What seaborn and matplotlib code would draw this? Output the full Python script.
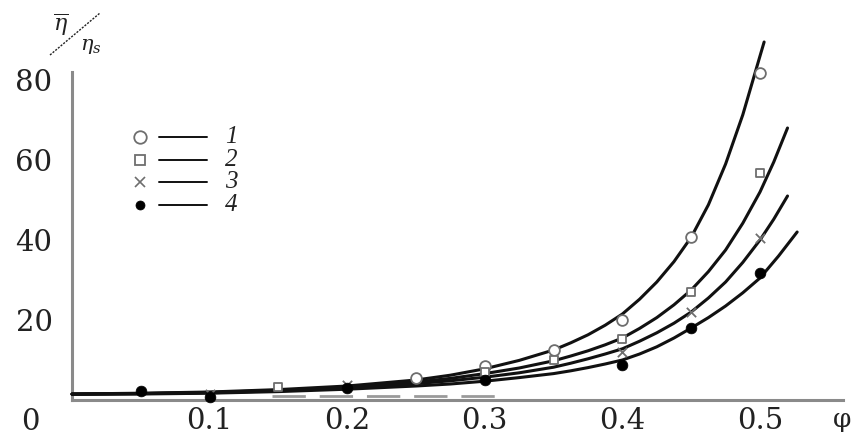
import matplotlib
matplotlib.use("Agg")
import matplotlib.pyplot as plt
from matplotlib.lines import Line2D
import seaborn as sns

# ---- measured relative viscosity (markers) ----
phi_1 = [0.25, 0.30, 0.35, 0.40, 0.45, 0.50]
eta_1 = [5.5, 8.5, 12.5, 20.0, 40.7, 81.7]

phi_2 = [0.15, 0.30, 0.35, 0.40, 0.45, 0.50]
eta_2 = [3.2, 7.0, 10.0, 15.2, 27.0, 56.7]

phi_3 = [0.10, 0.20, 0.40, 0.45, 0.50]
eta_3 = [1.5, 3.8, 12.0, 22.0, 40.5]

phi_4 = [0.05, 0.10, 0.20, 0.30, 0.40, 0.45, 0.50]
eta_4 = [2.2, 0.8, 3.0, 5.0, 8.7, 18.0, 31.7]

# ---- model curves ----
curve_phi_1 = [0, 0.05, 0.10, 0.15, 0.20, 0.25, 0.275, 0.30, 0.325, 0.35, 0.3625, 0.375,
               0.3875, 0.40, 0.4125, 0.425, 0.4375, 0.45, 0.4625, 0.475, 0.4875, 0.50, 0.503]
curve_eta_1 = [1.5, 1.7, 2.0, 2.6, 3.5, 5.0, 6.2, 7.8, 9.9, 12.5, 14.3, 16.3,
               18.7, 21.5, 25.2, 29.5, 34.6, 40.7, 48.8, 59.0, 71.3, 86.0, 89.5]

curve_phi_2 = [0, 0.05, 0.10, 0.15, 0.20, 0.25, 0.275, 0.30, 0.325, 0.35, 0.3625, 0.375,
               0.3875, 0.40, 0.4125, 0.425, 0.4375, 0.45, 0.4625, 0.475, 0.4875, 0.50, 0.51, 0.52]
curve_eta_2 = [1.5, 1.6, 1.9, 2.4, 3.2, 4.5, 5.4, 6.6, 8.0, 9.8, 11.0, 12.3,
               13.8, 15.5, 17.9, 20.6, 23.8, 27.5, 32.1, 37.5, 44.2, 52.0, 59.5, 68.0]

curve_phi_3 = [0, 0.05, 0.10, 0.15, 0.20, 0.25, 0.275, 0.30, 0.325, 0.35, 0.3625, 0.375,
               0.3875, 0.40, 0.4125, 0.425, 0.4375, 0.45, 0.4625, 0.475, 0.4875, 0.50, 0.51, 0.52]
curve_eta_3 = [1.5, 1.6, 1.8, 2.3, 3.0, 4.1, 4.8, 5.7, 6.8, 8.2, 9.2, 10.3,
               11.5, 12.8, 14.7, 16.8, 19.2, 22.0, 25.5, 29.5, 34.4, 40.0, 45.2, 51.0]

curve_phi_4 = [0, 0.05, 0.10, 0.15, 0.20, 0.25, 0.275, 0.30, 0.325, 0.35, 0.3625, 0.375,
               0.3875, 0.40, 0.4125, 0.425, 0.4375, 0.45, 0.4625, 0.475, 0.4875, 0.50, 0.5135, 0.527]
curve_eta_4 = [1.4, 1.5, 1.7, 2.1, 2.7, 3.5, 4.0, 4.7, 5.6, 6.6, 7.3, 8.1,
               9.0, 10.0, 11.5, 13.3, 15.5, 18.0, 20.6, 23.5, 26.8, 30.5, 36.0, 42.0]

# grey dashed baseline segment
dash_phi = [0.145, 0.315]
dash_eta = [1.0, 1.0]

x_ticks = [0.1, 0.2, 0.3, 0.4, 0.5]
x_tick_labels = ["0.1", "0.2", "0.3", "0.4", "0.5"]
y_ticks = [20, 40, 60, 80]
y_tick_labels = ["20", "40", "60", "80"]
series_labels = ["1", "2", "3", "4"]

sns.set_style("white")
plt.rcParams["font.family"] = ["DejaVu Serif"]
plt.rcParams["mathtext.fontset"] = "dejavuserif"

W, H = 851, 438
fig = plt.figure(figsize=(W / 100, H / 100), dpi=100)


def fx(px):
    return px / W


def fy(py):
    return 1 - py / H


ax = fig.add_axes([fx(72), fy(400), fx(843) - fx(72), fy(72) - fy(400)])
ax.set_xlim(0, (843 - 72) / 1376.0)
ax.set_ylim(0, 82.0)

axis_grey = "#8a8a8a"
line_col = "#111111"
mark_grey = "#6e6e6e"

# model curves
for cx, cy in [(curve_phi_1, curve_eta_1), (curve_phi_2, curve_eta_2),
               (curve_phi_3, curve_eta_3), (curve_phi_4, curve_eta_4)]:
    sns.lineplot(x=cx, y=cy, ax=ax, color=line_col, lw=2.2, sort=False,
                 estimator=None, zorder=3)

sns.lineplot(x=dash_phi, y=dash_eta, ax=ax, color="#9a9a9a", lw=2.0,
             linestyle=(0, (12, 5)), zorder=2)
for ln in ax.lines:
    ln.set_clip_on(False)
    ln.set_solid_capstyle("round")
    ln.set_solid_joinstyle("round")

marker_styles = [
    dict(marker="o", s=60, facecolor="white", edgecolor=mark_grey, linewidth=1.3),
    dict(marker="s", s=40, facecolor="white", edgecolor=mark_grey, linewidth=1.3),
    dict(marker="x", s=45, color=mark_grey, linewidth=1.3),
    dict(marker="o", s=60, color="black", edgecolor="black", linewidth=0.5),
]
for (px_, py_), st in zip([(phi_1, eta_1), (phi_2, eta_2), (phi_3, eta_3), (phi_4, eta_4)],
                          marker_styles):
    sns.scatterplot(x=px_, y=py_, ax=ax, zorder=4, clip_on=False, **st)

# axes styling
for side in ["top", "right"]:
    ax.spines[side].set_visible(False)
for side in ["left", "bottom"]:
    ax.spines[side].set_color(axis_grey)
    ax.spines[side].set_linewidth(2.2)

ax.set_xticks(x_ticks)
ax.set_xticklabels(x_tick_labels)
ax.set_yticks(y_ticks)
ax.set_yticklabels(y_tick_labels)
ax.tick_params(axis="both", direction="in", length=10, width=1.4,
               color=axis_grey, labelsize=21, labelcolor="#222222")
ax.tick_params(axis="y", pad=14)
ax.tick_params(axis="x", pad=5)
ax.set_xlabel("")
ax.set_ylabel("")

# corner zero and axis symbol
fig.text(fx(30), fy(422), "0", fontsize=21, color="#222222", ha="center", va="center")
fig.text(fx(842), fy(419), "φ", fontsize=19, color="#222222", ha="center", va="center")

# vertical axis label: eta-bar over eta_s
fig.text(fx(61), fy(25), r"$\overline{\eta}$", fontsize=16, color="#222222",
         ha="center", va="center")
fig.text(fx(91), fy(46), r"$\eta_{s}$", fontsize=15, color="#222222",
         ha="center", va="center")
fig.add_artist(Line2D([fx(50), fx(100)], [fy(55), fy(13)], transform=fig.transFigure,
                      color="#222222", lw=1.0, linestyle=(0, (1.5, 1))))

# key
rows = [137, 160, 182, 205]
key_markers = [
    dict(marker="o", ms=9, mfc="white", mec=mark_grey, mew=1.3),
    dict(marker="s", ms=6.5, mfc="white", mec=mark_grey, mew=1.3),
    dict(marker="x", ms=6.5, mec=mark_grey, mew=1.2),
    dict(marker="o", ms=6.5, mfc="black", mec="black", mew=0.5),
]
for ry, km, lab in zip(rows, key_markers, series_labels):
    fig.add_artist(Line2D([fx(140)], [fy(ry)], transform=fig.transFigure,
                          linestyle="none", **km))
    fig.add_artist(Line2D([fx(159), fx(207)], [fy(ry)], transform=fig.transFigure,
                          color=line_col, lw=1.4))
    fig.text(fx(231), fy(ry), lab, fontsize=18, style="italic", color="#222222",
             family=["Liberation Serif", "DejaVu Serif"], ha="center", va="center")

fig.savefig("out.png", dpi=100)
